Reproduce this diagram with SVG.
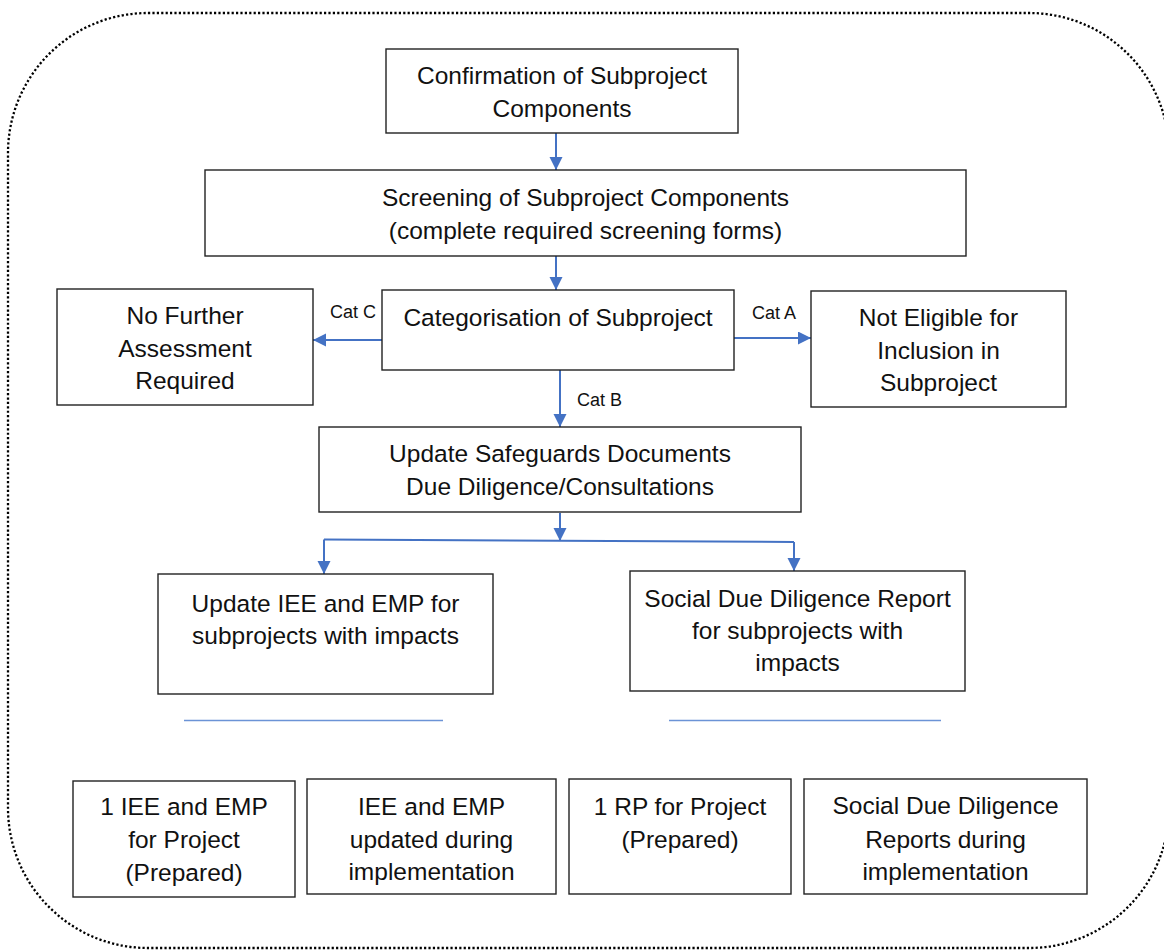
<svg xmlns="http://www.w3.org/2000/svg" width="1164" height="950" viewBox="0 0 1164 950">
<defs>
<style>
.box{fill:#fff;stroke:#222;stroke-width:1.4}
.t{font-family:"Liberation Sans",Arial,sans-serif;font-size:24.5px;fill:#111;text-anchor:middle}
.lab{font-family:"Liberation Sans",Arial,sans-serif;font-size:18px;fill:#111}
.con{fill:none;stroke:#4472C4;stroke-width:2}
.thin{fill:none;stroke:#6B93D6;stroke-width:1.5}
</style>
<marker id="ah" markerUnits="userSpaceOnUse" markerWidth="14" markerHeight="14" refX="13" refY="6.5" orient="auto">
<path d="M0,0 L13,6.5 L0,13 z" fill="#4472C4"/>
</marker>
</defs>
<rect x="0" y="0" width="1164" height="950" fill="#fff"/>
<rect id="frame" x="8" y="13" width="1161" height="935" rx="140" ry="140" fill="none" stroke="#000" stroke-width="2.3" stroke-dasharray="2.2 2.2"/>

<g id="connectors">
<line class="con" x1="556" y1="133" x2="556" y2="170" marker-end="url(#ah)"/>
<line class="con" x1="556" y1="256" x2="556" y2="290" marker-end="url(#ah)"/>
<line class="con" x1="382" y1="340" x2="313" y2="340" marker-end="url(#ah)"/>
<line class="con" x1="734" y1="338" x2="811" y2="338" marker-end="url(#ah)"/>
<line class="con" x1="560" y1="370" x2="560" y2="427" marker-end="url(#ah)"/>
<line class="con" x1="560" y1="513" x2="560" y2="541" marker-end="url(#ah)"/>
<line class="con" x1="324" y1="539.5" x2="794" y2="542"/>
<line class="con" x1="324" y1="539.5" x2="324" y2="574" marker-end="url(#ah)"/>
<line class="con" x1="794" y1="542" x2="794" y2="571" marker-end="url(#ah)"/>
<line class="thin" x1="184" y1="720.5" x2="443" y2="720.5"/>
<line class="thin" x1="669" y1="720.5" x2="941" y2="720.5"/>
<text class="lab" x="330" y="318">Cat C</text>
<text class="lab" x="752" y="319">Cat A</text>
<text class="lab" x="577" y="406">Cat B</text>
</g>

<g id="confirmation">
<rect class="box" x="386" y="49" width="352" height="84"/>
<text class="t" x="562" y="84">Confirmation of Subproject</text>
<text class="t" x="562" y="117">Components</text>
</g>

<g id="screening">
<rect class="box" x="205" y="170" width="761" height="86"/>
<text class="t" x="585.5" y="206">Screening of Subproject Components</text>
<text class="t" x="585.5" y="239">(complete required screening forms)</text>
</g>

<g id="categorisation">
<rect class="box" x="382" y="290" width="352" height="80"/>
<text class="t" x="558" y="326">Categorisation of Subproject</text>
</g>

<g id="no-further">
<rect class="box" x="57" y="289" width="256" height="116"/>
<text class="t" x="185" y="324">No Further</text>
<text class="t" x="185" y="357">Assessment</text>
<text class="t" x="185" y="389">Required</text>
</g>

<g id="not-eligible">
<rect class="box" x="811" y="291" width="255" height="116"/>
<text class="t" x="938.5" y="326">Not Eligible for</text>
<text class="t" x="938.5" y="359">Inclusion in</text>
<text class="t" x="938.5" y="391">Subproject</text>
</g>

<g id="update-safeguards">
<rect class="box" x="319" y="427" width="482" height="85"/>
<text class="t" x="560" y="462">Update Safeguards Documents</text>
<text class="t" x="560" y="495">Due Diligence/Consultations</text>
</g>

<g id="update-iee">
<rect class="box" x="158" y="574" width="335" height="120"/>
<text class="t" x="325.5" y="612">Update IEE and EMP for</text>
<text class="t" x="325.5" y="644">subprojects with impacts</text>
</g>

<g id="social-ddr">
<rect class="box" x="630" y="571" width="335" height="120"/>
<text class="t" x="797.5" y="607">Social Due Diligence Report</text>
<text class="t" x="797.5" y="639">for subprojects with</text>
<text class="t" x="797.5" y="671">impacts</text>
</g>

<g id="iee-project">
<rect class="box" x="73" y="781" width="222" height="116"/>
<text class="t" x="184" y="815">1 IEE and EMP</text>
<text class="t" x="184" y="848">for Project</text>
<text class="t" x="184" y="881">(Prepared)</text>
</g>

<g id="iee-updated">
<rect class="box" x="307" y="779" width="249" height="115"/>
<text class="t" x="431.5" y="815">IEE and EMP</text>
<text class="t" x="431.5" y="848">updated during</text>
<text class="t" x="431.5" y="880">implementation</text>
</g>

<g id="rp-project">
<rect class="box" x="569" y="779" width="222" height="115"/>
<text class="t" x="680" y="815">1 RP for Project</text>
<text class="t" x="680" y="848">(Prepared)</text>
</g>

<g id="social-reports">
<rect class="box" x="804" y="779" width="283" height="115"/>
<text class="t" x="945.5" y="814">Social Due Diligence</text>
<text class="t" x="945.5" y="848">Reports during</text>
<text class="t" x="945.5" y="880">implementation</text>
</g>
</svg>
